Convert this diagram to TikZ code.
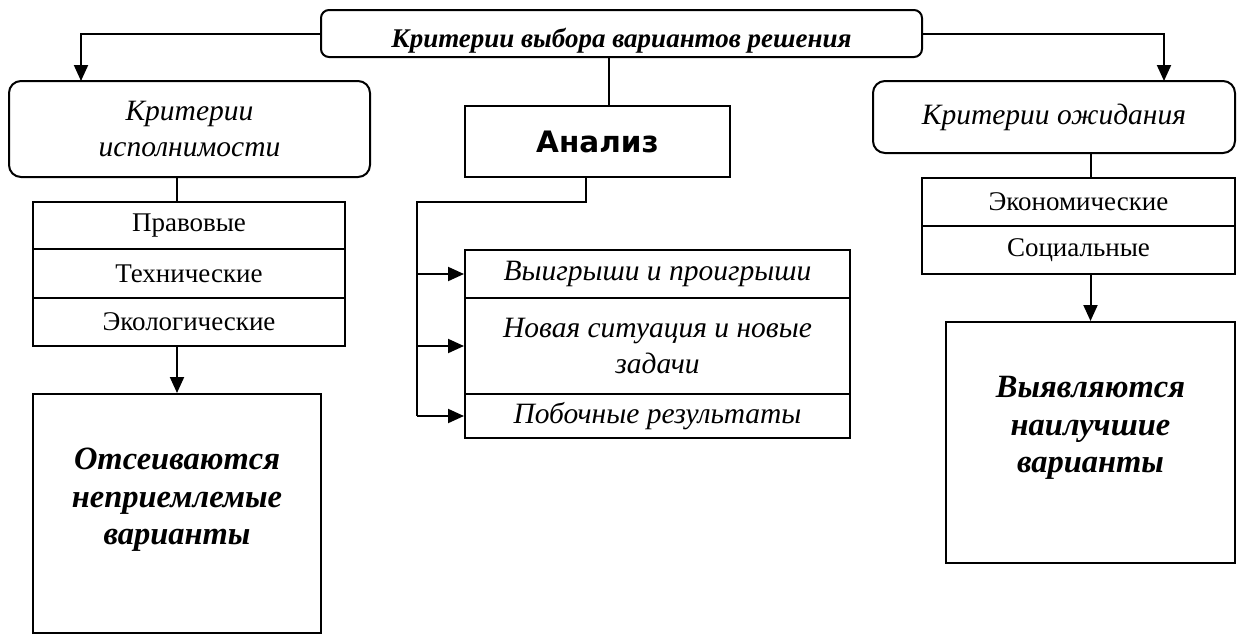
\documentclass[tikz,border=0pt]{standalone}
\usepackage{fontspec}
\setmainfont{Liberation Serif}
\newfontfamily\dvs{DejaVu Sans}
\usetikzlibrary{arrows.meta}
\tikzset{
  box/.style={draw, line width=2pt, inner sep=0pt, align=center},
  rbox/.style={box, rounded corners=12pt},
  conn/.style={line width=2pt},
  arr/.style={line width=2pt, -{Triangle[length=16pt,width=14pt]}},
  fr/.style={font=\fontsize{27}{30}\selectfont},
  fi/.style={font=\fontsize{29.5}{36}\selectfont\itshape},
  fbi/.style={font=\fontsize{32.5}{37.5}\selectfont\bfseries\itshape},
}
\begin{document}
\begin{tikzpicture}[x=1pt,y=-1pt]
\useasboundingbox (0,0) rectangle (1239,635);
% top
\node[box, rounded corners=8pt, minimum width=601pt, minimum height=47pt] (T) at (621.5,33.5) {};
\node[anchor=base, font=\fontsize{27}{30}\selectfont\bfseries\itshape] (Tt) at (621.5,47) {Критерии выбора вариантов решения};
% left column
\node[rbox, minimum width=361pt, minimum height=96pt, fi] (L) at (189.5,129) {Критерии\\исполнимости};
\node[box, minimum width=312pt, minimum height=47pt, fr] (p1) at (189,225.5) {Правовые};
\node[box, minimum width=312pt, minimum height=49pt, fr] (p2) at (189,273.5) {Технические};
\node[box, minimum width=312pt, minimum height=48pt, fr] (p3) at (189,322) {Экологические};
\node[box, minimum width=288pt, minimum height=239pt] (bl) at (177,513.5) {};
\node[fbi, align=center] (blt) at (177,500) {Отсеиваются\\неприемлемые\\варианты};
% middle column
\node[box, minimum width=265pt, minimum height=71pt, font=\fontsize{29.5}{32}\selectfont\dvs\bfseries] (A) at (597.5,141.5) {Анализ};
\node[box, minimum width=385pt, minimum height=48pt, fi] (a1) at (657.5,274) {Выигрыши и проигрыши};
\node[box, minimum width=385pt, minimum height=96pt, fi] (a2) at (657.5,346) {Новая ситуация и новые\\задачи};
\node[box, minimum width=385pt, minimum height=44pt, fi] (a3) at (657.5,416) {Побочные результаты};
% right column
\node[rbox, minimum width=362pt, minimum height=72pt, fi] (R) at (1054,117) {Критерии ожидания};
\node[box, minimum width=313pt, minimum height=48pt, fr] (e1) at (1078.5,202) {Экономические};
\node[box, minimum width=313pt, minimum height=48pt, fr] (e2) at (1078.5,250) {Социальные};
\node[box, minimum width=289pt, minimum height=241pt] (br) at (1090.5,442.5) {};
\node[fbi, align=center] (brt) at (1090.5,428) {Выявляются\\наилучшие\\варианты};
% coordinates
\coordinate (la) at (81,81);
\coordinate (ra) at (1164,81);
\coordinate (ta) at (609,106);
\coordinate (lp) at (177,202);
\coordinate (j1) at (586,202);
\coordinate (j2) at (417,202);
\coordinate (j3) at (417,416);
% connectors
\draw[arr] (T.west) -| (la);
\draw[arr] (T.east) -| (ra);
\draw[conn] (ta |- T.south) -- (ta);
\draw[conn] (lp |- L.south) -- (lp);
\draw[arr] (bl.north |- p3.south) -- (bl.north);
\draw[conn] (j1 |- A.south) -- (j1) -- (j2) -- (j3);
\draw[arr] (j2 |- a1.west) -- (a1.west);
\draw[arr] (j2 |- a2.west) -- (a2.west);
\draw[arr] (j3) -- (a3.west);
\draw[conn] (br.north |- R.south) -- (br.north |- e1.north);
\draw[arr] (br.north |- e2.south) -- (br.north);
\end{tikzpicture}
\end{document}
